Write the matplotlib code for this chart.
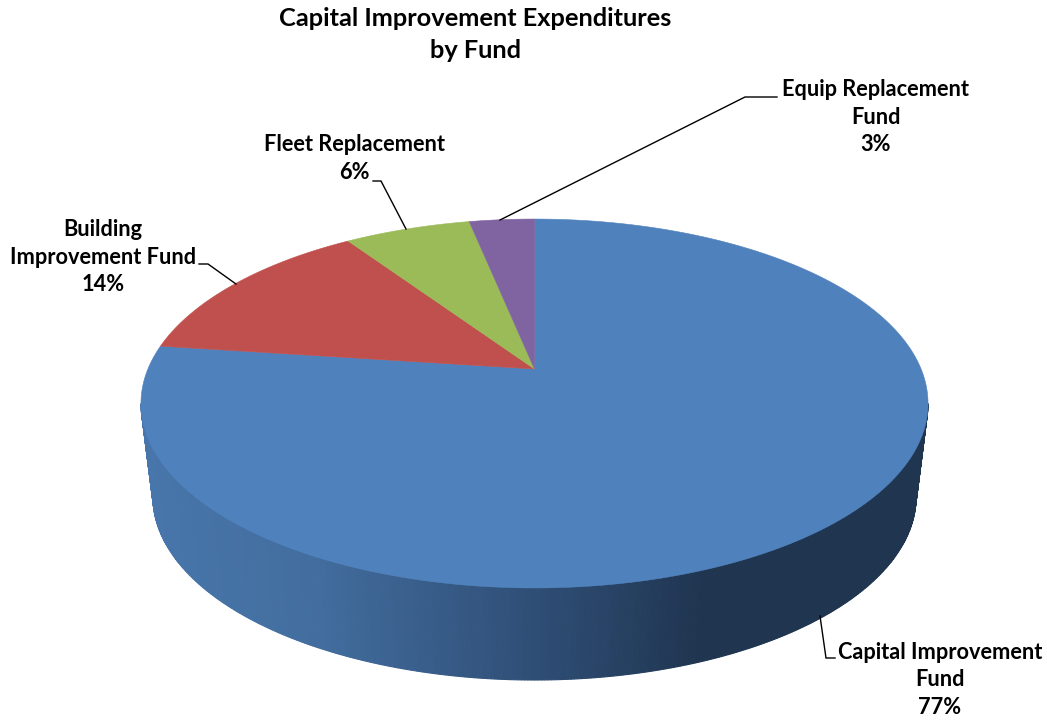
import numpy as np
import matplotlib
matplotlib.use("Agg")
import matplotlib.pyplot as plt
from matplotlib.colors import LinearSegmentedColormap
from matplotlib.patches import Polygon

# --- data ---
title_lines = ["Capital Improvement Expenditures", "by Fund"]
funds = ["Capital Improvement\nFund", "Building\nImprovement Fund", "Fleet Replacement", "Equip Replacement\nFund"]
shares = [77.1, 13.5, 6.2, 3.2]
colors = ["#4F81BD", "#C0504D", "#9BBB59", "#8064A2"]

W, H = 1047, 724
fig = plt.figure(figsize=(W / 100, H / 100), dpi=100, facecolor="white")
ax = fig.add_axes([0, 0, 1, 1])
ax.set_xlim(0, W)
ax.set_ylim(H, 0)
ax.axis("off")
FONT = "Lato"

# perspective of the top disc
CX, CY = 534.5, 369.0
A, B, K = 386.6, 178.0, 0.187


def project(turn):
    """Clockwise angle from 12 o'clock (radians) to picture position."""
    u, v = np.sin(turn), np.cos(turn)
    d = 1 + K * v
    return CX + A * u / d, CY - B * v / d


# side wall: upper and lower outline share one parameter
t = np.linspace(0, np.pi, 361)
top_x = 534.5 - 393.5 * np.cos(t)
top_y = 403.5 + 184.5 * np.sin(t)
bot_x = 534.5 - 381.5 * np.cos(t)
bot_y = 497.0 + 183.0 * np.sin(t)
shade = LinearSegmentedColormap.from_list(
    "side",
    [(0.0, "#4876AB"), (0.22, "#426D9E"), (0.5, "#2F4E76"), (0.72, "#1F3550"), (1.0, "#1F3550")],
)
for i in range(len(t) - 1):
    quad = [(top_x[i], top_y[i]), (top_x[i + 1], top_y[i + 1]),
            (bot_x[i + 1], bot_y[i + 1]), (bot_x[i], bot_y[i])]
    c = shade(((top_x[i] + top_x[i + 1]) / 2 - 141) / 787)
    ax.add_patch(Polygon(quad, closed=True, facecolor=c, edgecolor=c, lw=0.8, zorder=1))

# top wedges, clockwise from 12 o'clock
edges = np.concatenate([[0], np.cumsum(shares)]) / np.sum(shares) * 2 * np.pi
for s, e, col in zip(edges[:-1], edges[1:], colors):
    arc = np.linspace(s, e, 240)
    x, y = project(arc)
    pts = np.column_stack([np.r_[CX, x], np.r_[CY, y]])
    ax.add_patch(Polygon(pts, closed=True, facecolor=col, edgecolor=col, lw=0.4, zorder=2))

# title
for line, y in zip(title_lines, [18, 50]):
    ax.text(475, y, line, ha="center", va="center", fontsize=18.3,
            fontweight="bold", family=FONT, color="black")

# data labels
label_pos = [(940, 680), (103, 257), (354, 158.5), (876, 117)]
for name, share, (x, y) in zip(funds, shares, label_pos):
    ax.text(x, y, f"{name}\n{share:.0f}%", ha="center", va="center", fontsize=15.7,
            fontweight="bold", family=FONT, color="black", linespacing=1.4)

# leader lines
leaders = [
    ([820, 826, 835], [616, 658, 658]),
    ([199, 208, 236], [264, 264, 284]),
    ([373, 381, 406], [181, 181, 229]),
    ([500, 745, 777], [220, 97, 97]),
]
for lx, ly in leaders:
    ax.plot(lx, ly, color="black", lw=1.0, zorder=3, solid_joinstyle="miter")

fig.savefig("out.png", dpi=100, facecolor="white")
